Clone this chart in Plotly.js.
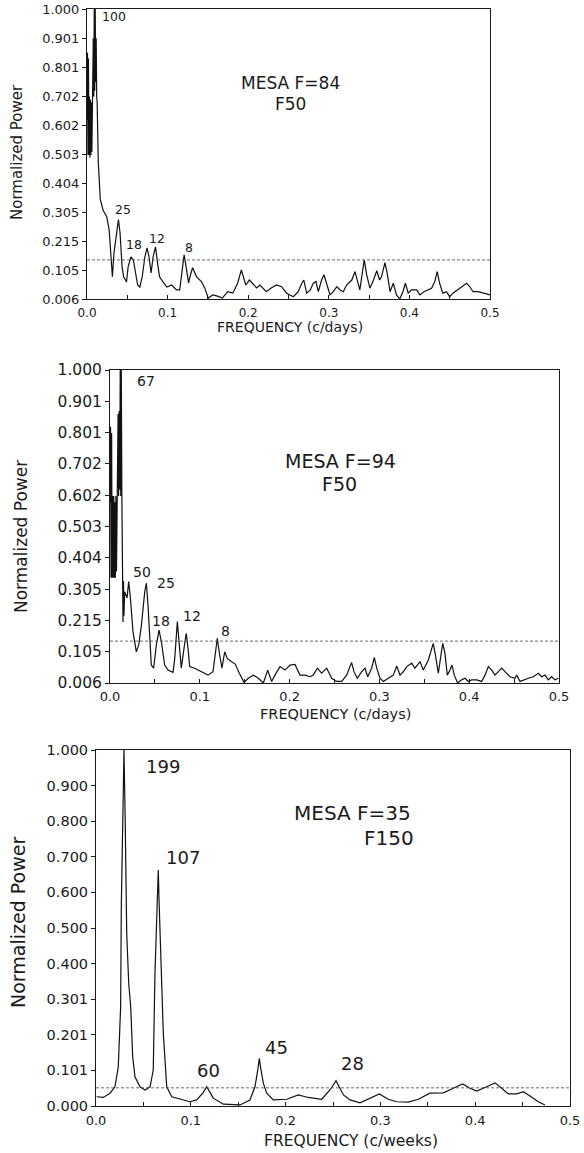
<!DOCTYPE html>
<html>
<head>
<meta charset="utf-8">
<script src="https://cdn.plot.ly/plotly-3.0.1.min.js"></script>
<style>html,body{margin:0;padding:0;background:#fff;}#chart{width:584px;height:1153px;}</style>
</head>
<body>
<div id="chart"></div>
<script>
// ---------- DATA ----------
const xTickLabels = ['0.0','0.1','0.2','0.3','0.4','0.5'];
const yTickLabels1 = ['0.006','0.105','0.215','0.305','0.404','0.503','0.602','0.702','0.801','0.901','1.000'];
const yTickLabels2 = ['0.006','0.105','0.215','0.305','0.404','0.503','0.602','0.702','0.801','0.901','1.000'];
const yTickLabels3 = ['0.000','0.101','0.201','0.301','0.400','0.500','0.600','0.700','0.800','0.900','1.000'];

// Panel 1: MESA F=84, F50 (c/days)
const freq1 = [0,0.0006,0.0012,0.0018,0.0024,0.003,0.0036,0.0042,0.0048,0.0054,
0.006,0.0066,0.0072,0.0078,0.0084,0.009,0.0096,0.0102,0.0108,0.0114,
0.012,0.0126,0.014,0.0155,0.0165,0.020,0.0245,0.0275,0.030,0.0315,
0.0335,0.0355,0.0375,0.039,0.041,0.0435,0.0455,0.049,0.051,0.0545,
0.0575,0.0595,0.0628,0.0655,0.0685,0.0718,0.0745,0.077,0.0795,0.082,
0.085,0.0875,0.090,0.0945,0.099,0.105,0.111,0.115,0.1175,0.1205,
0.123,0.126,0.1285,0.131,0.136,0.142,0.146,0.1505,0.156,0.162,
0.168,0.1745,0.181,0.187,0.1915,0.195,0.197,0.2015,0.2055,0.2105,
0.2145,0.2185,0.2225,0.2285,0.235,0.2415,0.2477,0.256,0.262,0.2665,
0.269,0.2725,0.277,0.2808,0.284,0.287,0.291,0.294,0.2975,0.3015,
0.3055,0.310,0.314,0.318,0.322,0.3285,0.3325,0.3355,0.3385,0.3415,
0.344,0.347,0.351,0.3555,0.3595,0.363,0.3655,0.3697,0.3725,0.376,
0.380,0.384,0.388,0.392,0.395,0.3985,0.4025,0.409,0.413,0.418,
0.4235,0.4275,0.4315,0.4345,0.4375,0.4415,0.446,0.450,0.454,0.460,
0.4665,0.471,0.475,0.479,0.4855,0.4915,0.500];
const power1 = [0.62,0.85,0.50,0.83,0.50,0.70,0.49,0.69,0.50,0.68,
0.51,0.70,0.60,0.90,0.70,1.00,0.72,1.00,0.75,0.90,
0.70,0.68,0.474,0.40,0.347,0.31,0.288,0.243,0.116,0.082,
0.164,0.209,0.254,0.278,0.233,0.116,0.082,0.064,0.116,0.150,
0.140,0.106,0.054,0.047,0.082,0.150,0.181,0.150,0.095,0.150,
0.185,0.130,0.082,0.064,0.047,0.054,0.037,0.037,0.095,0.157,
0.116,0.061,0.090,0.113,0.082,0.066,0.044,0.009,0.020,0.016,
0.009,0.031,0.026,0.061,0.106,0.077,0.054,0.071,0.060,0.044,
0.054,0.044,0.031,0.044,0.054,0.048,0.026,0.014,0.031,0.060,
0.071,0.026,0.037,0.060,0.066,0.031,0.071,0.089,0.054,0.020,
0.031,0.048,0.037,0.031,0.054,0.071,0.100,0.071,0.037,0.094,
0.140,0.089,0.043,0.071,0.103,0.071,0.083,0.131,0.094,0.031,
0.060,0.020,0.006,0.031,0.060,0.026,0.037,0.037,0.020,0.031,
0.037,0.043,0.066,0.100,0.060,0.026,0.031,0.014,0.026,0.037,
0.051,0.060,0.048,0.031,0.031,0.026,0.020];
const threshold1 = 0.140;

// Panel 2: MESA F=94, F50 (c/days)
const freq2 = [0,0.0006,0.0012,0.0018,0.0024,0.003,0.0036,0.0042,0.0048,0.0054,
0.006,0.0066,0.0072,0.0078,0.0084,0.009,0.0096,0.0102,0.0108,0.0114,
0.012,0.0126,0.0132,0.014,0.0145,0.015,0.0155,0.0163,0.019,0.0208,
0.0226,0.0256,0.0293,0.032,0.035,0.0387,0.0405,0.0423,0.0442,0.046,
0.0486,0.0516,0.0546,0.0572,0.0609,0.0646,0.0702,0.0721,0.075,0.0768,
0.0794,0.0824,0.0849,0.0869,0.0887,0.0943,0.1017,0.1091,0.1147,0.1173,
0.1195,0.1221,0.1247,0.1277,0.1306,0.135,0.1395,0.144,0.1492,0.154,
0.1596,0.1652,0.1708,0.1756,0.180,0.1837,0.1893,0.1949,0.2004,0.206,
0.2116,0.2171,0.2227,0.2264,0.2309,0.2357,0.2413,0.2469,0.2524,0.258,
0.2636,0.2665,0.2691,0.2717,0.2754,0.2803,0.284,0.287,0.2914,0.2943,
0.297,0.3007,0.3044,0.31,0.3155,0.3193,0.323,0.3267,0.3304,0.336,
0.3396,0.3452,0.3489,0.3545,0.3575,0.36,0.3627,0.3656,0.3683,0.3705,
0.373,0.3756,0.3786,0.3808,0.3834,0.3871,0.3916,0.3953,0.399,0.4027,
0.4083,0.4139,0.4176,0.4213,0.425,0.4287,0.4324,0.4362,0.4399,0.4454,
0.451,0.4529,0.4566,0.4603,0.4659,0.4714,0.477,0.4807,0.4844,0.4881,
0.4918,0.4955,0.4993];
const power2 = [0.58,0.82,0.34,0.80,0.34,0.60,0.34,0.60,0.34,0.58,
0.34,0.60,0.36,0.62,0.60,0.86,0.60,0.87,0.62,1.00,
0.60,1.00,0.60,0.34,0.20,0.33,0.22,0.296,0.276,0.328,
0.28,0.169,0.105,0.127,0.190,0.296,0.323,0.254,0.148,0.063,
0.053,0.127,0.174,0.137,0.063,0.047,0.040,0.084,0.201,0.148,
0.053,0.116,0.164,0.116,0.058,0.053,0.042,0.031,0.042,0.105,
0.148,0.095,0.053,0.105,0.084,0.074,0.066,0.037,0.008,0.021,
0.031,0.021,0.006,0.047,0.011,0.031,0.058,0.047,0.063,0.065,
0.031,0.031,0.026,0.031,0.053,0.037,0.053,0.021,0.011,0.011,
0.031,0.053,0.071,0.042,0.021,0.042,0.053,0.026,0.053,0.087,
0.053,0.021,0.011,0.021,0.031,0.060,0.031,0.042,0.058,0.069,
0.053,0.074,0.047,0.079,0.111,0.132,0.090,0.037,0.090,0.132,
0.100,0.031,0.047,0.063,0.031,0.006,0.016,0.021,0.011,0.016,
0.016,0.011,0.031,0.058,0.047,0.031,0.042,0.053,0.042,0.026,
0.021,0.031,0.011,0.016,0.021,0.026,0.037,0.026,0.031,0.016,
0.026,0.016,0.021];
const threshold2 = 0.139;

// Panel 3: MESA F=35, F150 (c/weeks)
const freq3 = [0.0007,0.0077,0.0148,0.020,0.0235,0.026,0.0267,0.0282,0.0295,0.0308,
0.0313,0.0324,0.0345,0.0366,0.0387,0.0411,0.0464,0.0517,0.057,0.0604,
0.0622,0.064,0.0657,0.0665,0.0675,0.0693,0.071,0.0746,0.0799,0.0886,
0.0992,0.1062,0.1126,0.1168,0.1203,0.1237,0.1343,0.1519,0.1624,0.1677,
0.1706,0.1723,0.1735,0.1765,0.1801,0.187,0.2012,0.2081,0.2134,0.2239,
0.2381,0.2468,0.25,0.2532,0.261,0.268,0.2785,0.289,0.2989,0.3083,
0.3172,0.3294,0.34,0.3523,0.3664,0.3769,0.3868,0.3945,0.4016,0.4121,
0.4209,0.428,0.4349,0.4438,0.4508,0.4578,0.4666,0.4736];
const power3 = [0.026,0.024,0.036,0.054,0.110,0.279,0.56,0.86,1.0,0.80,
0.70,0.485,0.345,0.279,0.139,0.082,0.054,0.045,0.054,0.101,
0.373,0.532,0.663,0.578,0.513,0.345,0.204,0.054,0.026,0.019,
0.012,0.017,0.036,0.054,0.036,0.022,0.005,0.003,0.017,0.054,
0.101,0.134,0.11,0.064,0.036,0.017,0.019,0.026,0.031,0.024,
0.019,0.045,0.060,0.071,0.031,0.017,0.009,0.022,0.034,0.019,
0.012,0.011,0.019,0.036,0.037,0.05,0.062,0.050,0.042,0.054,
0.065,0.050,0.034,0.034,0.040,0.028,0.012,0.003];
const threshold3 = 0.051;

// ---------- LAYOUT HELPERS ----------
const W = 584, H = 1153;
const FONT = 'DejaVu Sans, Liberation Sans, Arial, sans-serif';
const INK = '#1a1a1a';
const px = x => x / W;
const py = y => 1 - y / H;

const xTickVals = [], xTickText = [];
for (let i = 0; i <= 10; i++) {
  xTickVals.push(i * 0.05);
  xTickText.push(i % 2 === 0 ? xTickLabels[i / 2] : '');
}
function yTicks(labels, lo, hi) {
  const n = labels.length - 1;
  return labels.map((_, i) => lo + (hi - lo) * i / n);
}

function xAxis(l, r, anchor, size, standoff) {
  return {
    domain: [px(l), px(r)], anchor: anchor, range: [0, 0.5],
    tickmode: 'array', tickvals: xTickVals, ticktext: xTickText,
    ticks: 'inside', ticklen: 4, tickwidth: 1, tickcolor: INK,
    showline: true, linecolor: INK, linewidth: 1, mirror: true,
    showgrid: false, zeroline: false, fixedrange: true,
    ticklabelstandoff: standoff,
    tickfont: {family: FONT, size: size, color: INK}
  };
}
function yAxis(t, b, anchor, labels, lo, hi, size) {
  return {
    domain: [py(b), py(t)], anchor: anchor, range: [lo, hi],
    tickmode: 'array', tickvals: yTicks(labels, lo, hi), ticktext: labels,
    ticks: 'outside', ticklen: 4, tickwidth: 1, tickcolor: INK,
    showline: true, linecolor: INK, linewidth: 1, mirror: true,
    showgrid: false, zeroline: false, fixedrange: true,
    tickfont: {family: FONT, size: size, color: INK}
  };
}

function curve(x, y, xa, ya) {
  return {x: x, y: y, xaxis: xa, yaxis: ya, type: 'scatter', mode: 'lines',
    line: {color: '#111', width: 1.2}, hoverinfo: 'skip'};
}
function dashed(v, xa, ya) {
  return {x: [0, 0.5], y: [v, v], xaxis: xa, yaxis: ya, type: 'scatter', mode: 'lines',
    line: {color: '#444', width: 0.8, dash: '3px,2px'}, hoverinfo: 'skip'};
}

function ann(text, x, y, size, angle) {
  return {text: text, x: px(x), y: py(y), xref: 'paper', yref: 'paper',
    xanchor: 'center', yanchor: 'middle', showarrow: false, textangle: angle || 0,
    font: {family: FONT, size: size, color: INK}};
}

const data = [
  curve(freq1, power1, 'x', 'y'), dashed(threshold1, 'x', 'y'),
  curve(freq2, power2, 'x2', 'y2'), dashed(threshold2, 'x2', 'y2'),
  curve(freq3, power3, 'x3', 'y3'), dashed(threshold3, 'x3', 'y3')
];

const layout = {
  width: W, height: H, margin: {l: 0, r: 0, t: 0, b: 0},
  paper_bgcolor: '#fff', plot_bgcolor: '#fff', showlegend: false,
  xaxis: xAxis(87, 490, 'y', 12, 3),
  yaxis: yAxis(9, 299, 'x', yTickLabels1, 0.006, 1.0, 13),
  xaxis2: xAxis(110, 559, 'y2', 13, 1),
  yaxis2: yAxis(370, 683, 'x2', yTickLabels2, 0.006, 1.0, 15.5),
  xaxis3: xAxis(96, 570, 'y3', 13, 2),
  yaxis3: yAxis(750, 1106, 'x3', yTickLabels3, 0, 1.0, 14.5),
  annotations: [
    ann('Normalized Power', 17, 152, 15, -90),
    ann('FREQUENCY (c/days)', 290, 327, 14),
    ann('MESA F=84', 290, 83, 17),
    ann('F50', 290, 104, 17),
    ann('100', 114, 17, 12.5), ann('25', 123, 210, 12.5), ann('18', 134, 245, 12.5),
    ann('12', 157, 239, 12.5), ann('8', 189, 247, 12.5),

    ann('Normalized Power', 21, 537, 17, -90),
    ann('FREQUENCY (c/days)', 335, 714, 14.5),
    ann('MESA F=94', 341, 461, 19),
    ann('F50', 339, 484, 19),
    ann('67', 146, 381, 14), ann('50', 142, 572, 14), ann('25', 166, 583, 14),
    ann('18', 161, 621, 14), ann('12', 192, 616, 14), ann('8', 225, 631, 14),

    ann('Normalized Power', 18, 923, 19, -90),
    ann('FREQUENCY (c/weeks)', 351, 1141, 15.5),
    ann('MESA F=35', 352, 813, 20),
    ann('F150', 389, 838, 20),
    ann('199', 163, 766, 18), ann('107', 183, 857, 18), ann('60', 208, 1070, 18),
    ann('45', 276, 1047, 18), ann('28', 352, 1063, 18)
  ]
};

Plotly.newPlot('chart', data, layout, {displayModeBar: false, staticPlot: true});
</script>
</body>
</html>
